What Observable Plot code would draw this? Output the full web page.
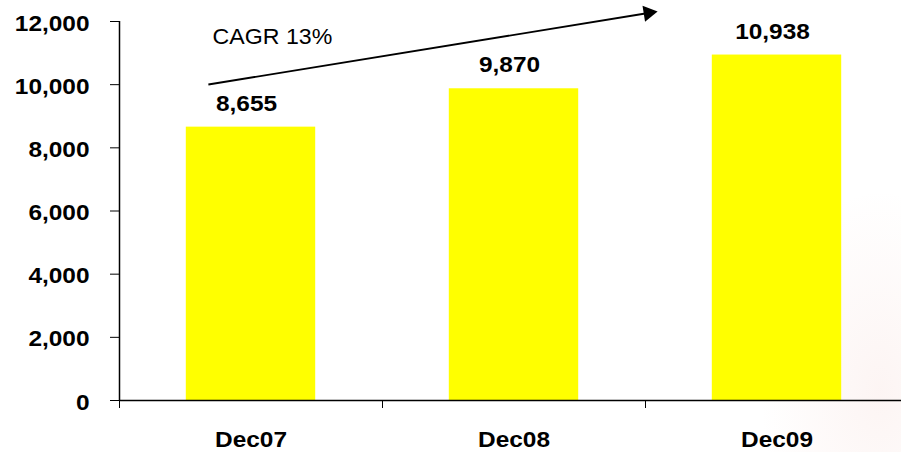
<!DOCTYPE html>
<html>
<head>
<meta charset="utf-8">
<script src="https://cdn.jsdelivr.net/npm/d3@7"></script>
<script src="https://cdn.jsdelivr.net/npm/@observablehq/plot@0.6"></script>
<style>
  html, body { margin: 0; padding: 0; background: #fff; }
  #chart { position: relative; width: 901px; height: 452px;
    background: radial-gradient(ellipse 120px 200px at 880px 390px, rgba(235,170,160,0.12), rgba(255,255,255,0) 100%); }
  #chart svg { background: transparent; }
</style>
</head>
<body>
<div id="chart"></div>
<script>
// ---- data ----
const categories = ["Dec07", "Dec08", "Dec09"];
const values = [8655, 9870, 10938];
const yTicks = [0, 2000, 4000, 6000, 8000, 10000, 12000];
const cagrLabel = "CAGR 13%";

// annotation placement (data units: x = category index, y = value)
const cagrText = { x: 0.354, y: 11500 };
const cagrArrow = { x1: 0.338, y1: 10005, x2: 2.011, y2: 12269 };

const rows = categories.map((c, i) => ({ category: c, i, value: values[i] }));
const fmt = d3.format(",");
const font = "'Liberation Sans', Arial, sans-serif";

const svg = Plot.plot({
  width: 901,
  height: 452,
  marginLeft: 119,
  marginRight: -7,
  marginTop: 21,
  marginBottom: 52,
  style: { fontFamily: font, fontSize: "22px", fontWeight: "bold", color: "#000", background: "transparent", overflow: "visible" },
  x: { type: "linear", domain: [0, 3] },
  y: { domain: [0, 12000] },
  marks: [
    Plot.rectY(rows, { x1: d => d.i + 0.254, x2: d => d.i + 0.746, y1: 0, y2: "value", fill: "#ffff00" }),
    // y tick marks
    Plot.axisY({ ticks: yTicks, tickFormat: () => "", tickSize: 9, stroke: "#000", strokeWidth: 1 }),
    // y tick labels
    Plot.axisY({ ticks: yTicks, tickFormat: fmt, tickSize: 0, tickPadding: 30, dy: 2, fill: "#000", fontSize: 22, fontWeight: "bold" }),
    Plot.axisX({ ticks: [0, 1, 2, 3], tickSize: 8, tickFormat: () => "", stroke: "#000", strokeWidth: 1 }),
    Plot.ruleX([0], { y1: 0, y2: 12000, stroke: "#000", strokeWidth: 1.5 }),
    Plot.ruleY([0], { stroke: "#000", strokeWidth: 1.5 }),
    Plot.text(rows, { x: d => d.i + 0.5, y: "value", text: d => fmt(d.value), dy: -23.5, dx: -4.5, fill: "#000", fontSize: 22, fontWeight: "bold" }),
    Plot.text(rows, { x: d => d.i + 0.5, y: 0, text: "category", dy: 39, fill: "#000", fontSize: 22, fontWeight: "bold" }),
    Plot.link([cagrArrow], { x1: "x1", y1: "y1", x2: "x2", y2: "y2", stroke: "#000", strokeWidth: 1.8 }),
    Plot.dot([cagrArrow], { x: "x2", y: "y2", symbol: "triangle", r: 6, fill: "#000", stroke: "none", rotate: 81 }),
    Plot.text([cagrText], { x: "x", y: "y", text: () => cagrLabel, textAnchor: "start", fill: "#000", fontSize: 22.5, fontWeight: "normal" })
  ]
});

document.getElementById("chart").appendChild(svg);

// horizontal stretch of the (wide) lettering, pivoting on each text's anchor
d3.select(svg).selectAll("text").each(function () {
  const t = this.textContent;
  if (!t) return;
  const s = t === cagrLabel ? 1.03 : 1.11;
  const b = this.getBBox();
  const anchor = this.getAttribute("text-anchor") ||
    (this.parentNode && this.parentNode.getAttribute && this.parentNode.getAttribute("text-anchor")) || "middle";
  const px = anchor === "start" ? b.x : anchor === "end" ? b.x + b.width : b.x + b.width / 2;
  const prev = this.getAttribute("transform") || "";
  this.setAttribute("transform", `${prev} translate(${px},0) scale(${s},1) translate(${-px},0)`);
});
</script>
</body>
</html>
